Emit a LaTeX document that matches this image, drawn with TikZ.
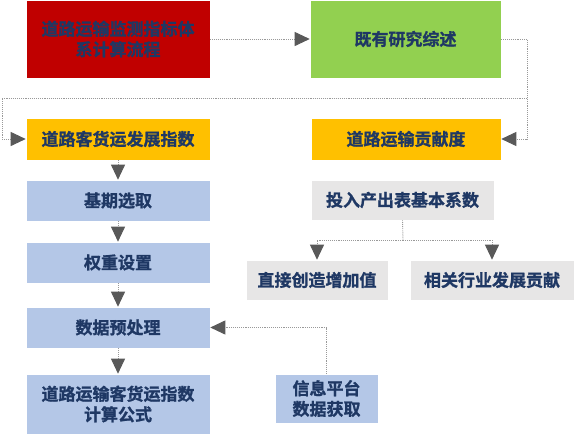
\documentclass[tikz,border=0pt]{standalone}
\usepackage{fontspec}
\setmainfont{Noto Sans CJK SC}[BoldFont={Noto Sans CJK SC Bold}, BoldFeatures={FakeBold=1.2}]
\usepackage{tikz}
\usetikzlibrary{arrows.meta,positioning}

\definecolor{boxred}{HTML}{C00000}
\definecolor{boxgreen}{HTML}{92D050}
\definecolor{boxyellow}{HTML}{FFC000}
\definecolor{boxblue}{HTML}{B4C7E7}
\definecolor{boxgray}{HTML}{E7E6E6}
\definecolor{textnavy}{HTML}{1F3864}
\definecolor{tipgray}{HTML}{595959}

\begin{document}
\begin{tikzpicture}[x=1pt,y=-1pt,
    box/.style={draw=white, line width=0.6pt, text=textnavy, font=\fontsize{17}{20.5}\selectfont\bfseries, align=center, inner sep=0pt},
    flow/.style={draw=gray!80, densely dotted, line width=0.9pt, -{Triangle[length=15pt,width=14pt,color=tipgray]}},
    link/.style={draw=gray!80, densely dotted, line width=0.9pt}]
    \useasboundingbox (0,0) rectangle (575,434);

    % 顶部
    \node[box, fill=boxred, minimum width=184pt, minimum height=78pt] (calc) at (118,39) {道路运输监测指标体\\系计算流程};
    \node[box, fill=boxgreen, minimum width=191pt, minimum height=78pt] (review) at (405.5,39) {既有研究综述};

    % 左列
    \node[box, fill=boxyellow, minimum width=184pt, minimum height=42pt] (index) at (118,139) {道路客货运发展指数};
    \node[box, fill=boxblue, minimum width=184pt, minimum height=41pt] (base) at (118,200.5) {基期选取};
    \node[box, fill=boxblue, minimum width=184pt, minimum height=41pt] (weight) at (118,262.5) {权重设置};
    \node[box, fill=boxblue, minimum width=184pt, minimum height=41pt] (prep) at (118,327.5) {数据预处理};
    \node[box, fill=boxblue, minimum width=184pt, minimum height=60pt] (formula) at (118,404) {道路运输客货运指数\\计算公式};
    \node[box, fill=boxblue, minimum width=103pt, minimum height=49pt] (platform) at (326.5,398.5) {信息平台\\数据获取};

    % 右列
    \node[box, fill=boxyellow, minimum width=190pt, minimum height=42pt] (contrib) at (406,139) {道路运输贡献度};
    \node[box, fill=boxgray, minimum width=183pt, minimum height=40pt] (coef) at (402.5,200) {投入产出表基本系数};
    \node[box, fill=boxgray, minimum width=142pt, minimum height=40pt] (direct) at (317,280) {直接创造增加值};
    \node[box, fill=boxgray, minimum width=164pt, minimum height=40pt] (related) at (492,280) {相关行业发展贡献};

    % 连线
    \coordinate (split) at (527,98);
    \coordinate (fork) at (403,240);
    \draw[flow] (calc) -- (review);
    \draw[flow] (review.east) -| (split) |- (contrib.east);
    \draw[flow] (split) -- (2,98) |- (index.west);
    \draw[flow] (index) -- (base);
    \draw[flow] (base) -- (weight);
    \draw[flow] (weight) -- (prep);
    \draw[flow] (prep) -- (formula);
    \draw[flow] (platform.north) |- (prep.east);
    \draw[link] (coef.south) -- (fork);
    \draw[flow] (fork) -| (direct.north);
    \draw[flow] (fork) -| (related.north);
\end{tikzpicture}
\end{document}
